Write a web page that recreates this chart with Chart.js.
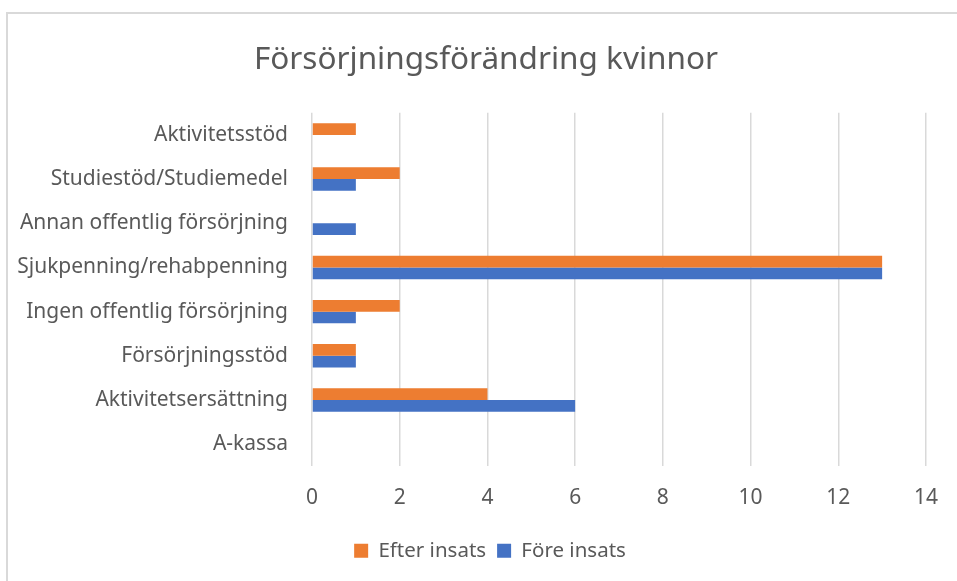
<!DOCTYPE html>
<html>
<head>
<meta charset="utf-8">
<script src="https://cdn.jsdelivr.net/npm/chart.js@4"></script>
<style>
  html, body { margin: 0; padding: 0; background: #fff; overflow: hidden; }
  #frame { position: absolute; left: 6px; top: 12px; width: 1000px; height: 700px; border: 2px solid #d9d9d9; }
  #wrap { position: absolute; left: 0; top: 0; width: 957px; height: 581px; }
</style>
</head>
<body>
<div id="frame"></div>
<div id="wrap"><canvas id="chart" width="957" height="581"></canvas></div>
<script>
const categories = ['Aktivitetsstöd', 'Studiestöd/Studiemedel', 'Annan offentlig försörjning', 'Sjukpenning/rehabpenning', 'Ingen offentlig försörjning', 'Försörjningsstöd', 'Aktivitetsersättning', 'A-kassa'];
const efterInsats = [1, 2, 0, 13, 2, 1, 4, 0];
const foreInsats = [0, 1, 1, 13, 1, 1, 6, 0];
const xTicks = [0, 2, 4, 6, 8, 10, 12, 14];

const grey = '#595959';
const font = "'Noto Sans', 'Open Sans', sans-serif";

// Excel centres title and legend on the whole frame, not on the plot
const shiftBlocks = {
    id: 'shiftBlocks',
    afterLayout(chart) {
        chart.titleBlock.left += 18;
        chart.titleBlock.right += 18;
        chart.legend.left += 22;
        chart.legend.right += 22;
    }
};

new Chart(document.getElementById('chart').getContext('2d'), {
    type: 'bar',
    data: {
        labels: categories,
        datasets: [{
            label: 'Efter insats',
            data: efterInsats,
            backgroundColor: '#ed7d31',
            categoryPercentage: 0.53,
            barPercentage: 1.0
        }, {
            label: 'Före insats',
            data: foreInsats,
            backgroundColor: '#4472c4',
            categoryPercentage: 0.53,
            barPercentage: 1.0
        }]
    },
    options: {
        indexAxis: 'y',
        responsive: false,
        animation: false,
        layout: {
            padding: { left: 10, right: 31, top: 41, bottom: 10 }
        },
        scales: {
            x: {
                min: 0,
                max: 14,
                afterBuildTicks: (axis) => { axis.ticks = xTicks.map(v => ({ value: v })); },
                grid: { color: '#d9d9d9', lineWidth: 1.5, drawTicks: false },
                border: { display: false },
                ticks: { color: grey, font: { family: font, size: 21 }, padding: 19 }
            },
            y: {
                grid: { display: false },
                border: { display: false },
                afterFit: (axis) => { axis.width = 302; },
                ticks: { color: grey, font: { family: font, size: 21 }, padding: 16 }
            }
        },
        plugins: {
            title: {
                display: true,
                text: 'Försörjningsförändring kvinnor',
                color: grey,
                font: { family: font, size: 31.5, weight: 'normal' },
                padding: { top: 0, bottom: 34 }
            },
            legend: {
                position: 'bottom',
                labels: {
                    color: grey,
                    font: { family: font, size: 20.5 },
                    boxWidth: 14,
                    boxHeight: 14,
                    padding: 11
                }
            },
            tooltip: { enabled: false }
        }
    },
    plugins: [shiftBlocks]
});
</script>
</body>
</html>
